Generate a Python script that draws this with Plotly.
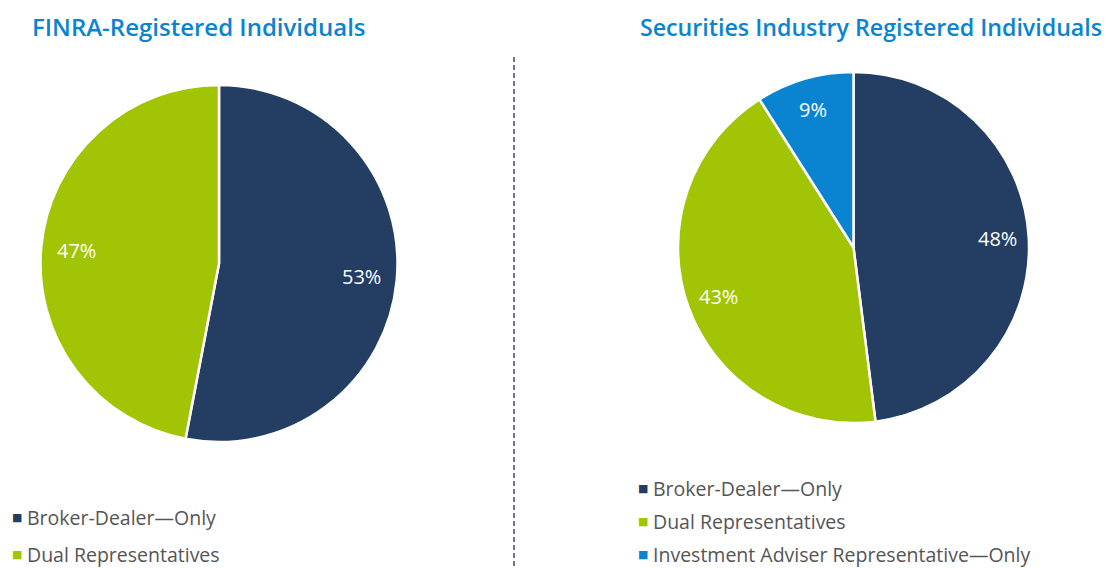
import math
import plotly.graph_objects as go

W, H = 1115, 568

left_title = "FINRA-Registered Individuals"
left_labels = ["Broker-Dealer—Only", "Dual Representatives"]
left_values = [53, 47]

right_title = "Securities Industry Registered Individuals"
right_labels = ["Broker-Dealer—Only", "Dual Representatives", "Investment Adviser Representative—Only"]
right_values = [48, 43, 9]

colors = {"Broker-Dealer—Only": "#233D63",
          "Dual Representatives": "#A1C404",
          "Investment Adviser Representative—Only": "#0A84D0"}

def px_x(x):
    return x / W

def px_y(y):
    return 1 - y / H

fig = go.Figure()
annotations = []

def add_pie(labels, values, dom_px, label_frac):
    x0, x1, y0, y1 = dom_px  # pixel box: left, right, top, bottom
    fig.add_trace(go.Pie(
        labels=labels, values=values, sort=False, direction="clockwise", rotation=0,
        marker=dict(colors=[colors[l] for l in labels], line=dict(color="white", width=2.5)),
        textinfo="none",
        domain=dict(x=[px_x(x0), px_x(x1)], y=[px_y(y1), px_y(y0)]),
        showlegend=False, hoverinfo="label+percent",
    ))
    # percent labels placed at each slice's mid-angle (derived from the values)
    cx, cy = (x0 + x1) / 2, (y0 + y1) / 2
    r = min(x1 - x0, y1 - y0) / 2
    total = sum(values)
    cum = 0
    for v in values:
        mid = (cum + v / 2) / total * 2 * math.pi
        cum += v
        lx = cx + math.sin(mid) * r * label_frac
        ly = cy - math.cos(mid) * r * label_frac
        annotations.append(dict(text=f"{v}%", x=px_x(lx), y=px_y(ly), xref="paper", yref="paper",
                                xanchor="center", yanchor="middle", showarrow=False,
                                font=dict(family="Open Sans", size=20, color="white")))

add_pie(left_labels, left_values, (40, 398, 85, 442), 0.80)
add_pie(right_labels, right_values, (677, 1030, 72, 423), 0.82)

# titles
annotations.append(dict(text=left_title, x=px_x(30), y=px_y(27), xref="paper", yref="paper",
                        xanchor="left", yanchor="middle", showarrow=False,
                        font=dict(family="Open Sans", size=24, color="#0A84D0", weight=600)))
annotations.append(dict(text=right_title, x=px_x(638), y=px_y(27), xref="paper", yref="paper",
                        xanchor="left", yanchor="middle", showarrow=False,
                        font=dict(family="Open Sans", size=23.2, color="#0A84D0", weight=600)))

# legends
def add_legend(labels, x0, y0, dy):
    for i, lab in enumerate(labels):
        y = y0 + i * dy
        annotations.append(dict(text="■", x=px_x(x0), y=px_y(y), xref="paper", yref="paper",
                                xanchor="left", yanchor="middle", showarrow=False,
                                font=dict(family="DejaVu Sans", size=11, color=colors[lab])))
        annotations.append(dict(text=lab, x=px_x(x0 + 15), y=px_y(y), xref="paper", yref="paper",
                                xanchor="left", yanchor="middle", showarrow=False,
                                font=dict(family="Open Sans", size=19.5, color="#555555")))

add_legend(left_labels, 10, 517, 37.5)
add_legend(right_labels, 636, 488, 33)

fig.update_layout(
    width=W, height=H,
    margin=dict(l=0, r=0, t=0, b=0),
    paper_bgcolor="white", plot_bgcolor="white",
    annotations=annotations,
    shapes=[dict(type="line", xref="paper", yref="paper", x0=px_x(514), x1=px_x(514),
                 y0=px_y(57), y1=0, line=dict(color="#6A7A99", width=2, dash="5px,3px"))],
)

fig.write_html("out.html", config={"displayModeBar": False},
               post_script="document.body.style.margin='0';document.body.style.overflow='hidden';")
